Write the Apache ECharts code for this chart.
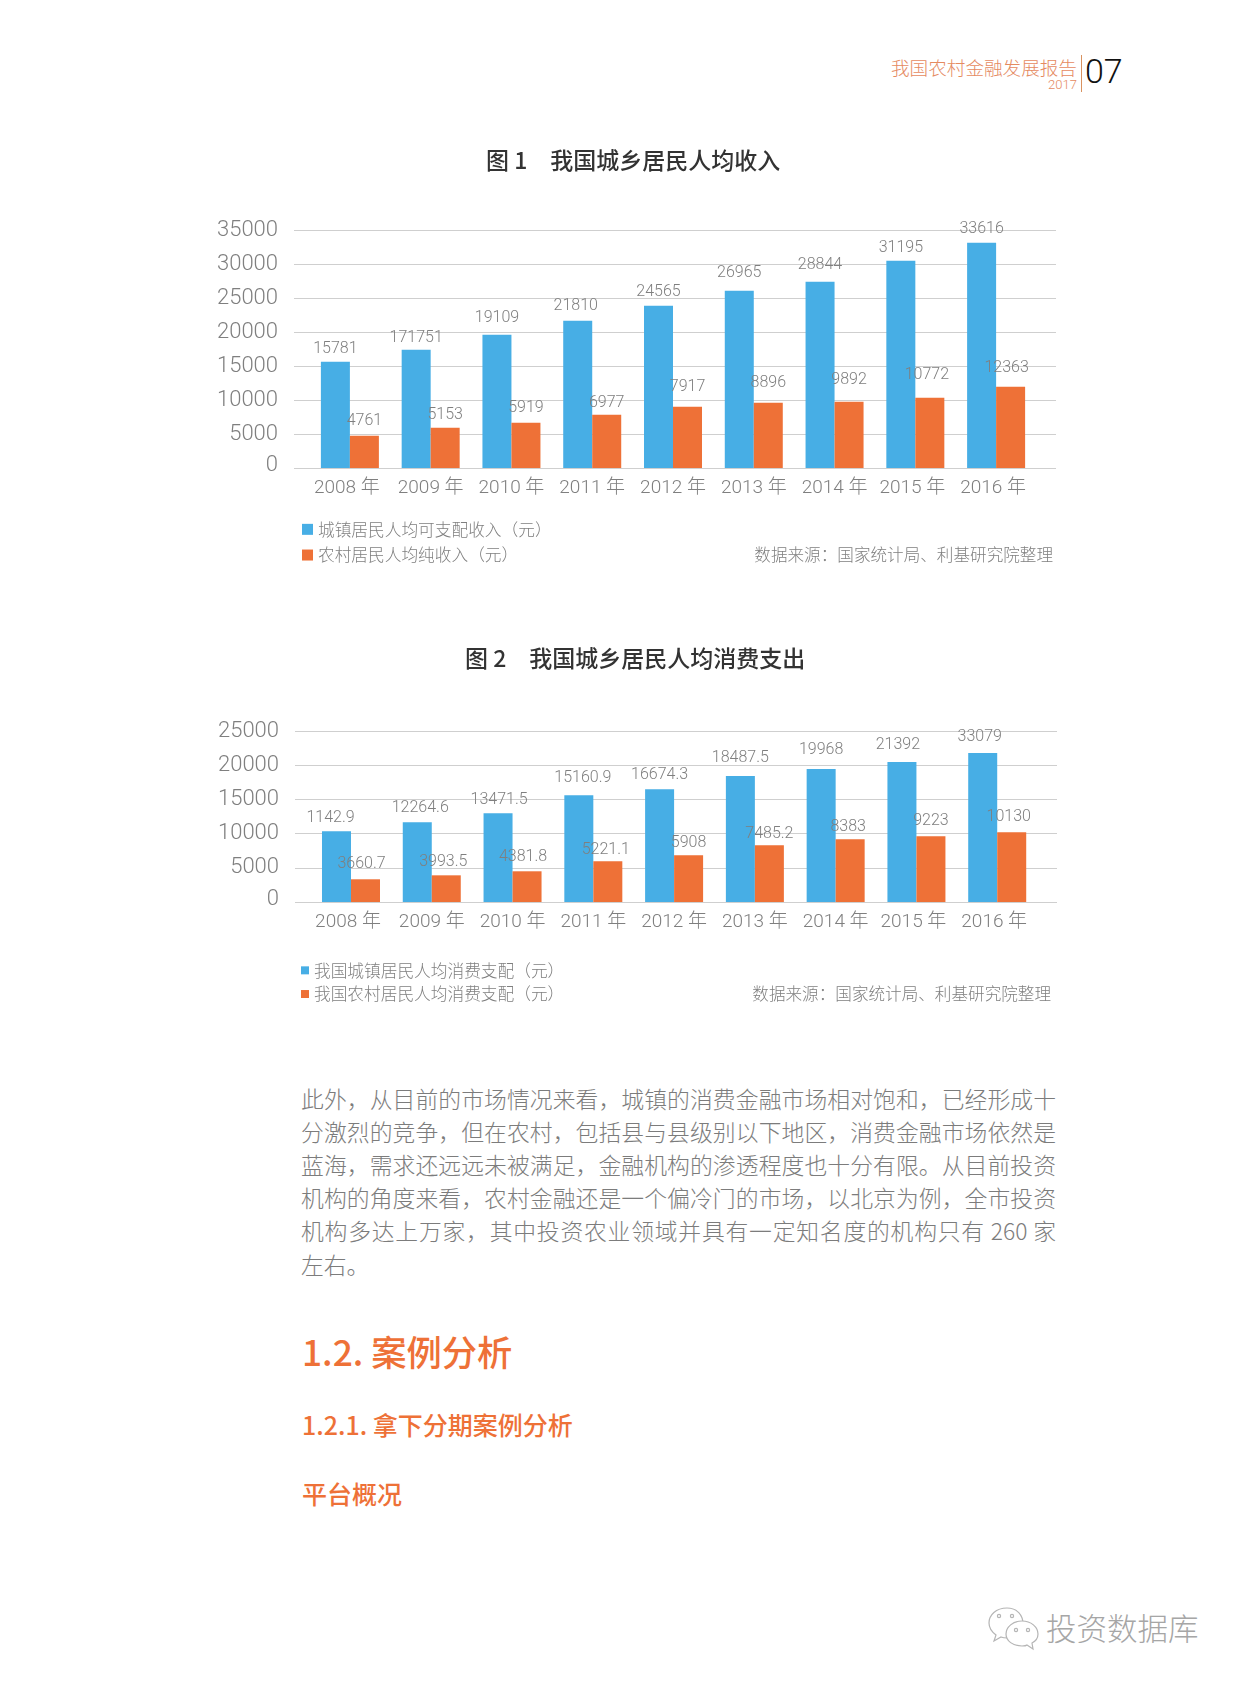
<!DOCTYPE html>
<html>
<head>
<meta charset="utf-8">
<title>我国农村金融发展报告</title>
<script src="https://cdn.jsdelivr.net/npm/echarts@6/dist/echarts.min.js"></script>
<style>
html, body { margin: 0; padding: 0; background: #fff; }
#page { position: relative; width: 1240px; height: 1683px; overflow: hidden; font-family: "Noto Sans CJK SC", sans-serif; }
#page div { position: absolute; white-space: nowrap; }
#chart1 { left: 0; top: 130px; width: 1240px; height: 450px; }
#chart2 { left: 0; top: 630px; width: 1240px; height: 400px; }
.para { left: 301px; width: 755px; height: 34px; line-height: 34px; font-size: 22.8px; color: #7c7c7c; font-weight: 300; text-align: justify; text-align-last: justify; }
.para.last { text-align-last: left; }
.head { color: #ee7137; font-weight: 500; line-height: 1; }
</style>
</head>
<body>
<div id="page">
  <div style="left:891px;top:55px;font-size:18.6px;line-height:24px;color:#e58a5f;font-weight:300">我国农村金融发展报告</div>
  <div style="left:1048px;top:77px;font-size:13px;line-height:16px;color:#e58a5f;font-family:Roboto;font-weight:300">2017</div>
  <div style="left:1081px;top:55px;width:1px;height:37px;background:#d9925f"></div>
  <div style="left:1085px;top:51px;font-size:34px;line-height:40px;color:#111;font-family:Roboto;font-weight:300">07</div>

  <div id="chart1"></div>
  <div id="chart2"></div>

  <div class="para" style="top:1082px">此外，从目前的市场情况来看，城镇的消费金融市场相对饱和，已经形成十</div>
  <div class="para" style="top:1115px">分激烈的竞争，但在农村，包括县与县级别以下地区，消费金融市场依然是</div>
  <div class="para" style="top:1148px">蓝海，需求还远远未被满足，金融机构的渗透程度也十分有限。从目前投资</div>
  <div class="para" style="top:1181px">机构的角度来看，农村金融还是一个偏冷门的市场，以北京为例，全市投资</div>
  <div class="para" style="top:1214px">机构多达上万家，其中投资农业领域并具有一定知名度的机构只有 260 家</div>
  <div class="para last" style="top:1248px">左右。</div>

  <div class="head" style="left:302px;top:1333px;font-size:35.3px">1.2. 案例分析</div>
  <div class="head" style="left:302px;top:1412px;font-size:25px">1.2.1. 拿下分期案例分析</div>
  <div class="head" style="left:302px;top:1481px;font-size:25px">平台概况</div>

  <svg style="position:absolute;left:986px;top:1605px" width="54" height="46" fill="none" stroke="#b5b5b5" stroke-width="1.2">
    <path d="M21 3C10 3 3 10 3 18c0 5 3 9 7 12l-2 6 7-4c2 1 4 1 7 1C30 33 37 27 37 19 37 10 31 3 21 3z" fill="#fff"/>
    <path d="M36 16c-9 0-16 6-16 13s7 12 16 12c2 0 4 0 5-1l6 4-1-6c4-2 6-5 6-9 0-7-7-13-16-13z" fill="#fff"/>
    <circle cx="13" cy="11" r="1.6"/><circle cx="26" cy="11" r="1.6"/>
    <circle cx="30" cy="25" r="1.6"/><circle cx="42" cy="25" r="1.6"/>
  </svg>
  <div style="left:1046px;top:1608px;font-size:30.5px;line-height:38px;color:#a6a6a6;font-weight:300">投资数据库</div>
</div>

<script>
// 数据
const years = ['2008 年', '2009 年', '2010 年', '2011 年', '2012 年', '2013 年', '2014 年', '2015 年', '2016 年'];

// 图1 柱子高度按图上读，标注文字和柱高本来就对不上，所以分开放
const incomeTicks = [0, 5000, 10000, 15000, 20000, 25000, 30000, 35000];
const urbanIncome = [15640, 17400, 19600, 21670, 23870, 26080, 27400, 30490, 33140];
const ruralIncome = [4750, 5930, 6670, 7840, 9020, 9600, 9750, 10340, 11960];
const urbanIncomeText = ['15781', '171751', '19109', '21810', '24565', '26965', '28844', '31195', '33616'];
const ruralIncomeText = ['4761', '5153', '5919', '6977', '7917', '8896', '9892', '10772', '12363'];

// 图2
const spendTicks = [0, 5000, 10000, 15000, 20000, 25000];
const urbanSpend = [10350, 11670, 12990, 15625, 16500, 18410, 19430, 20460, 21780];
const ruralSpend = [3320, 3900, 4490, 5960, 6840, 8300, 9180, 9620, 10200];
const urbanSpendText = ['1142.9', '12264.6', '13471.5', '15160.9', '16674.3', '18487.5', '19968', '21392', '33079'];
const ruralSpendText = ['3660.7', '3993.5', '4381.8', '5221.1', '5908', '7485.2', '8383', '9223', '10130'];

// 原图标注是手工摆的，位置不齐，这里单独微调 [dx, dy]
const urbanIncomeNudge = [[0, 1], [0, 2], [0, -3], [-2, -1], [0, 0], [0, -4], [0, -3], [0, 1], [0, 0]];
const ruralIncomeNudge = [[0, -1], [0, 1], [0, -1], [0, 2], [0, -6], [0, -6], [0, -8], [-3, -9], [-4, -5]];
const urbanSpendNudge = [[-6, 0], [3, -1], [1, 0], [4, -4], [0, -1], [0, -5], [0, -6], [-4, -4], [-3, -3]];
const ruralSpendNudge = [[-4, -2], [-3, 0], [-4, -1], [-2, 2], [0, 1], [0, 2], [-2, 1], [0, -2], [-3, -2]];
// 这几个年份的标签在原图里偏左一点
const leftShifted = [0, 7, 8];

const BLUE = '#47aee5';
const ORANGE = '#ee7137';
const GREY = '#7f7f7f';
const LINE = '#cfcfcf';
const NUM_FONT = 'Roboto, "Noto Sans CJK SC"';

const makeBar = (name, values, texts, nudge, color) => ({
  name: name,
  type: 'bar',
  xAxisIndex: 1,
  yAxisIndex: 1,
  data: values.map((v, i) => ({ value: v, label: { offset: nudge[i] } })),
  barWidth: 29,
  barGap: 0,
  itemStyle: { color: color },
  label: {
    show: true,
    position: 'top',
    distance: 5.5,
    color: GREY,
    fontSize: 16,
    fontFamily: NUM_FONT,
    fontWeight: 300,
    formatter: p => texts[p.dataIndex]
  }
});

// cfg: 第一个grid只画横线(比柱子区域宽)，第二个grid放柱子
const initChart = (id, cfg) => {
  let chart = echarts.init(document.getElementById(id));
  const maxV = cfg.ticks[cfg.ticks.length - 1];
  const tickStyle = { color: GREY, fontSize: 22, fontFamily: NUM_FONT, fontWeight: 300 };
  chart.setOption({
    animation: false,
    textStyle: { fontFamily: '"Noto Sans CJK SC"' },
    title: {
      text: cfg.title,
      left: cfg.titleLeft,
      top: cfg.titleTop,
      textStyle: { color: '#333', fontSize: 23, fontWeight: 500, fontFamily: '"Noto Sans CJK SC"' }
    },
    legend: {
      orient: 'vertical',
      left: cfg.legendLeft,
      top: cfg.legendTop,
      itemWidth: cfg.markSize,
      itemHeight: cfg.markSize,
      itemGap: cfg.legendGap,
      icon: 'rect',
      textStyle: { color: GREY, fontSize: 16.7, fontWeight: 300 }
    },
    grid: [
      { left: cfg.lineLeft, width: cfg.lineWidth, top: cfg.top, height: cfg.height },
      { left: cfg.barLeft, width: 727, top: cfg.top, height: cfg.height }
    ],
    xAxis: [
      { gridIndex: 0, type: 'category', data: [], axisLine: { show: false }, axisTick: { show: false }, axisLabel: { show: false } },
      {
        gridIndex: 1,
        type: 'category',
        data: years.map((y, i) => leftShifted.includes(i) ? { value: y, textStyle: { padding: [0, 6, 0, 0] } } : y),
        axisLine: { show: false },
        axisTick: { show: false },
        axisLabel: { interval: 0, color: GREY, fontSize: 19, margin: 11, fontFamily: NUM_FONT, fontWeight: 300 }
      }
    ],
    yAxis: [
      {
        gridIndex: 0,
        type: 'value',
        min: 0,
        max: maxV,
        interval: 5000,
        axisLine: { show: false },
        axisTick: { show: false },
        splitLine: { lineStyle: { color: LINE, width: 1 } },
        axisLabel: {
          margin: 16,
          formatter: v => (v === 0 ? '{z|0}' : '{n|' + v + '}'),
          rich: {
            n: { ...tickStyle },
            z: { ...tickStyle, padding: [0, 0, 6, 0] }
          }
        }
      },
      { gridIndex: 1, type: 'value', min: 0, max: maxV, interval: 5000, show: false }
    ],
    series: [
      makeBar(cfg.names[0], cfg.urban, cfg.urbanText, cfg.urbanNudge, BLUE),
      makeBar(cfg.names[1], cfg.rural, cfg.ruralText, cfg.ruralNudge, ORANGE)
    ],
    graphic: [{
      type: 'text',
      right: cfg.sourceRight,
      top: cfg.sourceTop,
      style: { text: '数据来源：国家统计局、利基研究院整理', fill: GREY, font: '300 16.6px "Noto Sans CJK SC"' }
    }]
  });
};

initChart('chart1', {
  title: '图 1　我国城乡居民人均收入',
  titleLeft: 481, titleTop: 14,
  ticks: incomeTicks,
  urban: urbanIncome, rural: ruralIncome,
  urbanText: urbanIncomeText, ruralText: ruralIncomeText,
  urbanNudge: urbanIncomeNudge, ruralNudge: ruralIncomeNudge,
  names: ['城镇居民人均可支配收入（元）', '农村居民人均纯收入（元）'],
  lineLeft: 294, lineWidth: 762,
  barLeft: 309.5, top: 100, height: 238,
  legendLeft: 297, legendTop: 386, markSize: 11, legendGap: 9,
  sourceRight: 187, sourceTop: 416
});

initChart('chart2', {
  title: '图 2　我国城乡居民人均消费支出',
  titleLeft: 460, titleTop: 12,
  ticks: spendTicks,
  urban: urbanSpend, rural: ruralSpend,
  urbanText: urbanSpendText, ruralText: ruralSpendText,
  urbanNudge: urbanSpendNudge, ruralNudge: ruralSpendNudge,
  names: ['我国城镇居民人均消费支配（元）', '我国农村居民人均消费支配（元）'],
  lineLeft: 295, lineWidth: 762,
  barLeft: 310.6, top: 101, height: 171,
  legendLeft: 296, legendTop: 327, markSize: 8, legendGap: 7,
  sourceRight: 189, sourceTop: 355
});
</script>
</body>
</html>
